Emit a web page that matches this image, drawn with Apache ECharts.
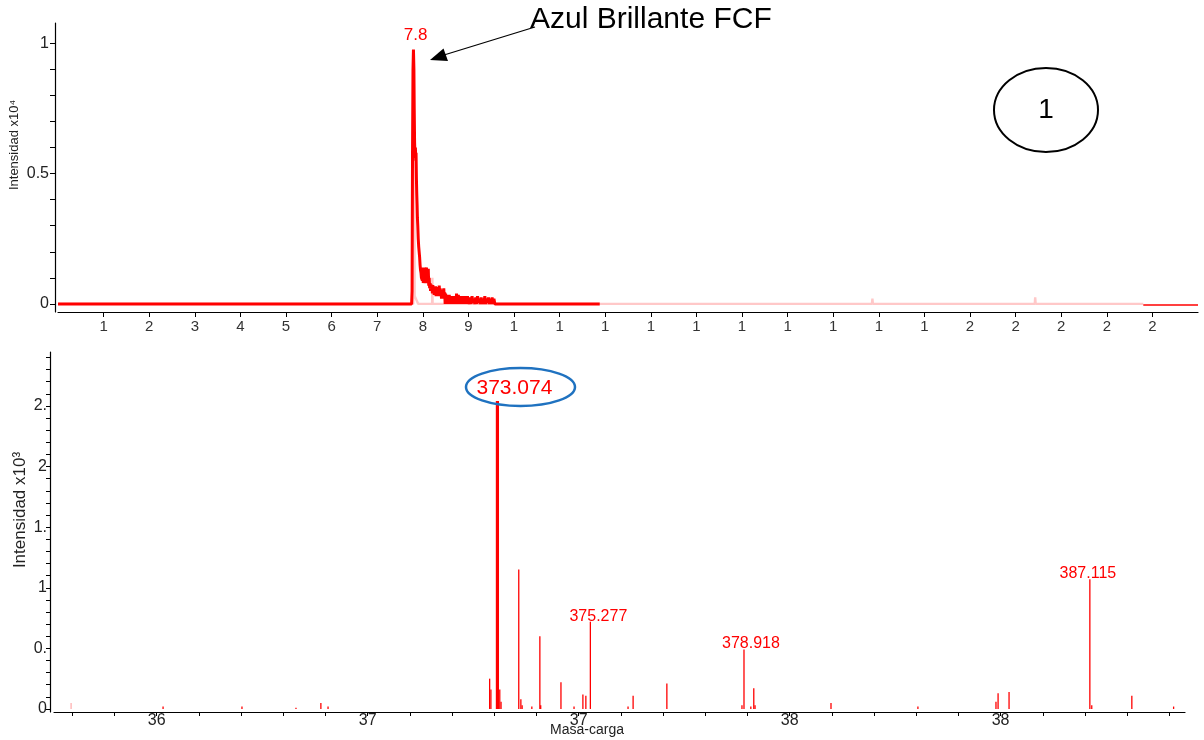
<!DOCTYPE html>
<html><head><meta charset="utf-8">
<script src="https://cdn.jsdelivr.net/npm/echarts@6/dist/echarts.min.js"></script>
<style>html,body{margin:0;padding:0;background:#fff}#c{width:1204px;height:740px}</style>
</head><body><div id="c"></div>
<script>
// ---------- top: chromatogram (time, intensity x10^4) ----------
const chromRed = [[0,0],[7.755,0],[7.765,0.05],[7.775,0.6],[7.785,0.9],[7.795,0.976],[7.805,0.9],[7.812,0.75],[7.82,0.62],[7.83,0.56],[7.838,0.6],[7.845,0.55],[7.852,0.58],[7.86,0.48],[7.868,0.42],[7.875,0.38],[7.882,0.33],[7.89,0.3],[7.9,0.25],[7.91,0.22],[7.92,0.2],[7.93,0.18],[7.94,0.15],[7.95,0.13],[7.96,0.12],[7.97,0.1],[7.98,0.105],[7.99,0.09],[8.0,0.14],[8.01,0.08],[8.02,0.13],[8.03,0.09],[8.04,0.14],[8.05,0.08],[8.06,0.12],[8.07,0.1],[8.08,0.14],[8.09,0.09],[8.1,0.13],[8.11,0.08],[8.12,0.135],[8.13,0.07],[8.14,0.1],[8.15,0.06],[8.16,0.08],[8.17,0.05],[8.18,0.075],[8.19,0.05],[8.2,0.07],[8.21,0.04],[8.22,0.072],[8.23,0.05],[8.24,0.065],[8.25,0.035],[8.26,0.06],[8.27,0.045],[8.28,0.068],[8.29,0.03],[8.3,0.065],[8.31,0.04],[8.32,0.06],[8.33,0.03],[8.34,0.055],[8.35,0.035],[8.36,0.07],[8.37,0.04],[8.38,0.06],[8.39,0.03],[8.4,0.05],[8.41,0.02],[8.42,0.055],[8.43,0.03],[8.44,0.05],[8.45,0.025],[8.46,0.06],[8.47,0.02],[8.48,0.045],[8.49,0.0],[8.5,0.04],[8.51,0.005],[8.52,0.035],[8.53,0.0],[8.54,0.03],[8.55,0.005],[8.56,0.025],[8.57,0.0],[8.58,0.035],[8.59,0.0],[8.6,0.02],[8.61,0.005],[8.62,0.03],[8.63,0.0],[8.64,0.025],[8.65,0.0],[8.66,0.03],[8.67,0.005],[8.68,0.02],[8.69,0.0],[8.7,0.03],[8.71,0.0],[8.72,0.025],[8.73,0.005],[8.74,0.04],[8.75,0.0],[8.76,0.03],[8.77,0.005],[8.78,0.035],[8.79,0.0],[8.8,0.025],[8.81,0.0],[8.82,0.03],[8.83,0.005],[8.84,0.02],[8.85,0.0],[8.86,0.03],[8.87,0.0],[8.88,0.025],[8.89,0.005],[8.9,0.03],[8.91,0.0],[8.92,0.02],[8.93,0.0],[8.94,0.03],[8.95,0.005],[8.96,0.025],[8.97,0.0],[8.98,0.03],[8.99,0.0],[9.0,0.02],[9.02,0.0],[9.04,0.025],[9.06,0.0],[9.08,0.03],[9.1,0.005],[9.12,0.02],[9.14,0.0],[9.16,0.025],[9.18,0.0],[9.2,0.03],[9.22,0.005],[9.24,0.02],[9.26,0.0],[9.28,0.025],[9.3,0.0],[9.32,0.02],[9.34,0.0],[9.36,0.03],[9.38,0.0],[9.4,0.02],[9.42,0.005],[9.44,0.025],[9.46,0.0],[9.48,0.02],[9.5,0.0],[9.52,0.025],[9.54,0.0],[9.56,0.02],[9.58,0.0],[9.6,0],[11.88,0]];
const chromPink = [[0,0],[7.79,0],[7.80,0.5],[7.815,0.55],[7.822,0.03],[7.9,0],[8.205,0],[8.21,0.1],[8.215,0],[17.85,0],[17.86,0.02],[17.87,0],[21.42,0],[21.43,0.025],[21.44,0],[23.8,0]];
const chromTail = [[23.8,-0.004],[25,-0.004]];
const peakTime = 7.8, peakIntensity = 0.976, peakLabel = '7.8';
const topXTicks = [1,2,3,4,5,6,7,8,9,10,11,12,13,14,15,16,17,18,19,20,21,22,23,24];
const topYLabels = [0,0.5,1];
const topYTicks = [0,0.1,0.2,0.3,0.4,0.5,0.6,0.7,0.8,0.9,1];

// ---------- bottom: mass spectrum (m/z, intensity x10^3) ----------
const specMz  = [365.15,367.02,368.30,368.89,369.06,372.89,372.92,373.074,373.13,373.16,373.58,373.63,373.66,373.89,374.08,374.10,374.58,374.89,375.10,375.17,375.277,376.17,376.29,377.09,378.87,378.918,379.08,379.15,379.18,380.98,383.04,384.89,384.94,385.20,387.115,387.16,388.11,389.10];
const specInt = [0.02,0.02,0.01,0.05,0.02,0.25,0.16,2.54,0.16,0.06,1.15,0.08,0.03,0.02,0.60,0.03,0.22,0.02,0.12,0.11,0.72,0.02,0.11,0.21,0.03,0.49,0.02,0.17,0.03,0.05,0.02,0.06,0.13,0.14,1.07,0.03,0.11,0.02];
const specPinkMz = [362.97];
const specPinkInt = [0.05];
const labeledMz = [373.074,375.277,378.918,387.115];
const mainMz = 373.074;
const botXLabels = [365,370,375,380,385];
const botXTicks = [363,364,365,366,367,368,369,370,371,372,373,374,375,376,377,378,379,380,381,382,383,384,385,386,387,388,389];
const botYLabels = [0,0.5,1,1.5,2,2.5];
const botYTicks = [0,0.1,0.2,0.3,0.4,0.5,0.6,0.7,0.8,0.9,1,1.1,1.2,1.3,1.4,1.5,1.6,1.7,1.8,1.9,2,2.1,2.2,2.3,2.4,2.5,2.6,2.7,2.8,2.9];

// label style offsets (pixels) for the labeled peaks
const labelStyle = {
  373.074: {dx: 17, dy: -13, size: 21},
  375.277: {dx: 8, dy: -5, size: 16},
  378.918: {dx: 7, dy: -6, size: 16},
  387.115: {dx: -2, dy: -6, size: 16}
};

const FONT = 'Liberation Sans, Arial, sans-serif';
const chart = echarts.init(document.getElementById('c'), null, {renderer: 'canvas'});

const specData = specMz.map((m, i) => [m, specInt[i]]);
const pinkData = specPinkMz.map((m, i) => [m, specPinkInt[i]]);
const labelData = labeledMz.map(m => [m, specInt[specMz.indexOf(m)]]);

function barRenderer(color) {
  return function (params, api) {
    const x = api.value(0), y = api.value(1);
    const top = api.coord([x, y]);
    const base = api.coord([x, 0]);
    const w = (Math.abs(x - mainMz) < 1e-6) ? 3.2 : 1.3;
    return {type: 'rect', shape: {x: top[0] - w / 2, y: top[1], width: w, height: base[1] - top[1]}, style: {fill: color}};
  };
}
function labelRenderer(params, api) {
  const x = api.value(0), y = api.value(1);
  const p = api.coord([x, y]);
  const st = labelStyle[x];
  return {type: 'text', x: p[0] + st.dx, y: p[1] + st.dy,
    style: {text: String(x), fill: '#ff0000', font: st.size + 'px ' + FONT, textAlign: 'center', textVerticalAlign: 'middle'}};
}

const axisCommon = {
  axisLine: {show: true, onZero: false, lineStyle: {color: '#000', width: 1.2}},
  splitLine: {show: false}
};

chart.setOption({
  animation: false,
  backgroundColor: '#fff',
  grid: [
    {left: 58, top: 23, right: 6, height: 289},
    {left: 54, top: 352, right: 19, height: 360}
  ],
  xAxis: [
    Object.assign({}, axisCommon, {
      gridIndex: 0, type: 'value', min: 0, max: 25,
      axisTick: {show: true, length: 5, customValues: topXTicks, lineStyle: {color: '#000'}},
      axisLabel: {show: true, customValues: topXTicks, margin: 7, color: '#333', fontSize: 15, fontFamily: FONT,
        formatter: v => String(v).charAt(0)}
    }),
    Object.assign({}, axisCommon, {
      gridIndex: 1, type: 'value', min: 362.565, max: 389.37,
      axisTick: {show: true, length: 4, customValues: botXTicks, lineStyle: {color: '#000'}},
      axisLabel: {show: true, customValues: botXLabels, margin: 1, color: '#222', fontSize: 16, fontFamily: FONT,
        formatter: v => String(v).slice(0, 2)}
    })
  ],
  yAxis: [
    Object.assign({}, axisCommon, {
      gridIndex: 0, type: 'value', min: -0.031, max: 1.078, offset: 3,
      axisTick: {show: true, length: 5, customValues: topYTicks, lineStyle: {color: '#000'}},
      axisLabel: {show: true, customValues: topYLabels, margin: 6, color: '#222', fontSize: 16, fontFamily: FONT,
        formatter: v => String(v)}
    }),
    Object.assign({}, axisCommon, {
      gridIndex: 1, type: 'value', min: -0.025, max: 2.945, offset: 4,
      axisTick: {show: true, length: 4, customValues: botYTicks, lineStyle: {color: '#000'}},
      axisLabel: {show: true, customValues: botYLabels, margin: 3, color: '#222', fontSize: 16, fontFamily: FONT,
        formatter: v => String(v).slice(0, 2)}
    })
  ],
  series: [
    {type: 'line', xAxisIndex: 0, yAxisIndex: 0, data: chromPink, symbol: 'none', lineStyle: {color: '#ffc8c8', width: 2.4}, z: 2},
    {type: 'line', xAxisIndex: 0, yAxisIndex: 0, data: chromRed, symbol: 'none', lineStyle: {color: '#ff0000', width: 3}, z: 3,
      markPoint: {symbol: 'circle', symbolSize: 0, silent: true,
        data: [{coord: [peakTime, peakIntensity], value: peakLabel}],
        label: {show: true, position: 'top', distance: 6, offset: [2, 0], formatter: peakLabel, color: '#ff0000', fontSize: 17, fontFamily: FONT}}},
    {type: 'line', xAxisIndex: 0, yAxisIndex: 0, data: chromTail, symbol: 'none', lineStyle: {color: '#ff0000', width: 1.5}, z: 3},
    {type: 'custom', xAxisIndex: 1, yAxisIndex: 1, data: pinkData, renderItem: barRenderer('#ffb0b0'), z: 2},
    {type: 'custom', xAxisIndex: 1, yAxisIndex: 1, data: specData, renderItem: barRenderer('#ff0000'), z: 3},
    {type: 'custom', xAxisIndex: 1, yAxisIndex: 1, data: labelData, renderItem: labelRenderer, z: 5}
  ],
  graphic: [
    {type: 'text', x: 530, y: 20, style: {text: 'Azul Brillante FCF', font: '30px ' + FONT, fill: '#000', textAlign: 'left', textVerticalAlign: 'middle'}},
    {type: 'line', shape: {x1: 535, y1: 27, x2: 444, y2: 55}, style: {stroke: '#000', lineWidth: 1.2}},
    {type: 'polygon', shape: {points: [[430, 60], [443.5, 48.5], [448, 61]]}, style: {fill: '#000'}},
    {type: 'ellipse', shape: {cx: 1046, cy: 110, rx: 52, ry: 42}, style: {stroke: '#000', lineWidth: 2, fill: 'none'}},
    {type: 'text', x: 1046, y: 110, style: {text: '1', font: '28px ' + FONT, fill: '#000', textAlign: 'center', textVerticalAlign: 'middle'}},
    {type: 'ellipse', shape: {cx: 520.5, cy: 387, rx: 54.5, ry: 19}, style: {stroke: '#1f72c0', lineWidth: 2.5, fill: 'none'}, z: 10},
    {type: 'text', x: 14, y: 145, rotation: Math.PI / 2, style: {text: 'Intensidad x10⁴', font: '13px ' + FONT, fill: '#222', textAlign: 'center', textVerticalAlign: 'middle'}},
    {type: 'text', x: 20, y: 510, rotation: Math.PI / 2, style: {text: 'Intensidad x10³', font: '17px ' + FONT, fill: '#222', textAlign: 'center', textVerticalAlign: 'middle'}},
    {type: 'text', x: 587, y: 730, style: {text: 'Masa-carga', font: '14px ' + FONT, fill: '#222', textAlign: 'center', textVerticalAlign: 'middle'}}
  ]
});
</script>
</body></html>
